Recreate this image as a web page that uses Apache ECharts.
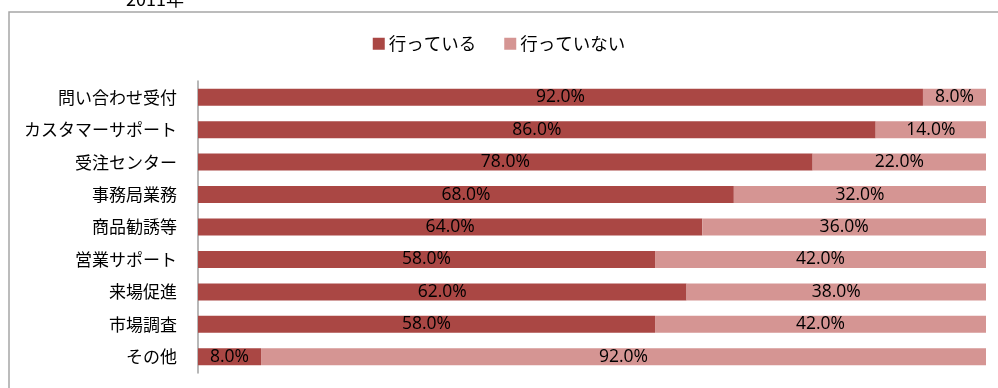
<!DOCTYPE html>
<html>
<head>
<meta charset="utf-8">
<script src="https://cdn.jsdelivr.net/npm/echarts@6/dist/echarts.min.js"></script>
<style>
  html, body { margin: 0; padding: 0; background: #fff; }
  #chart { width: 998px; height: 388px; }
</style>
</head>
<body>
<div id="chart"></div>
<script>
// Categories, top to bottom
const categories = ['問い合わせ受付', 'カスタマーサポート', '受注センター', '事務局業務', '商品勧誘等', '営業サポート', '来場促進', '市場調査', 'その他'];
// Share (%) of respondents that do / do not
const doing = [92, 86, 78, 68, 64, 58, 62, 58, 8];
const notDoing = [8, 14, 22, 32, 36, 42, 38, 42, 92];
const seriesNames = ['行っている', '行っていない'];
const yearLabel = '2011年';

const jpFont = '"Noto Sans CJK JP", sans-serif';
const numFont = '"Open Sans", sans-serif';

const chart = echarts.init(document.getElementById('chart'));

const valueLabel = {
  show: true,
  position: 'inside',
  color: '#000',
  fontFamily: numFont,
  fontSize: 17.5,
  formatter: p => p.value.toFixed(1) + '%'
};

chart.setOption({
  animation: false,
  graphic: [
    {
      type: 'rect',
      shape: { x: 9, y: 12, width: 1000, height: 400 },
      style: { fill: 'none', stroke: '#a6a6a6', lineWidth: 1.5 },
      silent: true
    },
    {
      type: 'text',
      left: 126,
      top: -10,
      style: { text: yearLabel, fontSize: 18, fontFamily: jpFont, fill: '#000' },
      silent: true
    }
  ],
  legend: {
    top: 30,
    left: 'center',
    itemWidth: 12,
    itemHeight: 12,
    itemGap: 28,
    icon: 'rect',
    textStyle: { fontSize: 17.5, fontFamily: jpFont, color: '#000', padding: [0, 0, 0, -1] },
    data: seriesNames
  },
  grid: { left: 198, right: 12, top: 81, height: 292, containLabel: false },
  xAxis: {
    type: 'value',
    min: 0,
    max: 100,
    show: false
  },
  yAxis: {
    type: 'category',
    inverse: true,
    data: categories,
    axisLine: { show: true, lineStyle: { color: '#a0a0a0', width: 1.5 } },
    axisTick: { show: false },
    axisLabel: { margin: 21, fontSize: 17, fontFamily: jpFont, color: '#000' }
  },
  series: [
    {
      name: seriesNames[0],
      type: 'bar',
      stack: 'share',
      barWidth: 17,
      data: doing,
      itemStyle: { color: '#aa4744' },
      label: valueLabel
    },
    {
      name: seriesNames[1],
      type: 'bar',
      stack: 'share',
      barWidth: 17,
      data: notDoing,
      itemStyle: { color: '#d59593' },
      label: valueLabel
    }
  ]
});
</script>
</body>
</html>
